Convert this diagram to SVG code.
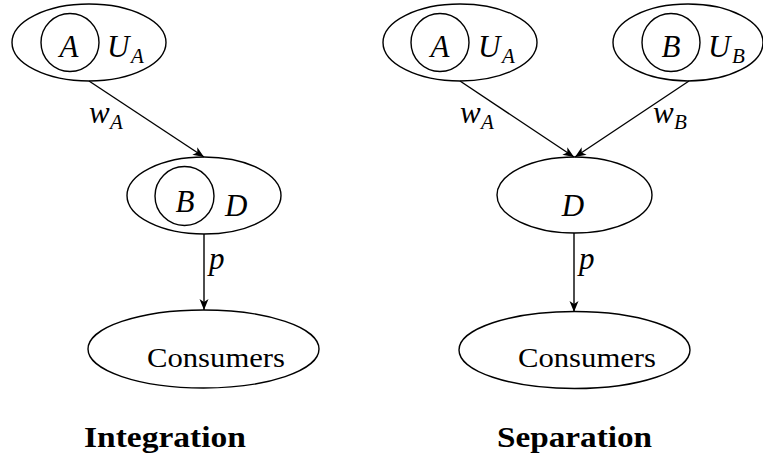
<svg xmlns="http://www.w3.org/2000/svg" width="763" height="462" viewBox="0 0 763 462" font-family="DejaVu Serif, serif">
<style>
.sh{fill:none;stroke:#000;stroke-width:1.4}
.ed{fill:none;stroke:#000;stroke-width:1.4}
text{fill:#000}
.m{font-family:"Liberation Serif",serif;font-style:italic;font-size:31px}
.s{font-family:"Liberation Serif",serif;font-style:italic;font-size:21px}
.r{font-family:"Liberation Serif",serif;font-size:28px}
.b{font-family:"Liberation Serif",serif;font-weight:bold;font-size:29px}
</style>
<defs>
<marker id="ah" markerWidth="12" markerHeight="10" viewBox="-11 -5 12 10" refX="0" refY="0" orient="auto" markerUnits="userSpaceOnUse">
<path d="M0,0 L-11,-4.5 L-8,0 L-11,4.5 Z" fill="#000"/>
</marker>
</defs>
<rect width="763" height="462" fill="#fff"/>
<g id="connectors">
<line class="ed" x1="89" y1="81" x2="204" y2="157" marker-end="url(#ah)"/>
<line class="ed" x1="204" y1="234" x2="204" y2="310" marker-end="url(#ah)"/>
<line class="ed" x1="460" y1="81" x2="574" y2="157" marker-end="url(#ah)"/>
<line class="ed" x1="689" y1="81" x2="575" y2="157" marker-end="url(#ah)"/>
<line class="ed" x1="574" y1="233" x2="574" y2="312" marker-end="url(#ah)"/>
<text class="m" x="89" y="123">w</text><text class="s" x="110" y="129">A</text>
<text class="m" x="460" y="123">w</text><text class="s" x="481" y="129">A</text>
<text class="m" x="653" y="123">w</text><text class="s" x="674" y="129">B</text>
<text class="m" x="209" y="269">p</text>
<text class="m" x="579" y="269">p</text>
</g>
<g id="left-UA">
<ellipse class="sh" cx="89" cy="42.5" rx="77" ry="38.5"/>
<circle class="sh" cx="70" cy="42.5" r="29"/>
<text class="m" x="69" y="57" text-anchor="middle">A</text>
<text class="m" x="107" y="57">U</text><text class="s" x="131" y="63">A</text>
</g>
<g id="left-D">
<ellipse class="sh" cx="204" cy="195.5" rx="77" ry="38.5"/>
<circle class="sh" cx="184.5" cy="196" r="29.5"/>
<text class="m" x="185" y="212" text-anchor="middle">B</text>
<text class="m" x="225" y="215.5">D</text>
</g>
<g id="left-consumers">
<ellipse class="sh" cx="203.5" cy="349" rx="115.5" ry="39"/>
<text class="r" x="147" y="367" textLength="138" lengthAdjust="spacingAndGlyphs">Consumers</text>
</g>
<text class="b" x="84" y="447" textLength="162" lengthAdjust="spacingAndGlyphs">Integration</text>
<g id="right-UA">
<ellipse class="sh" cx="460" cy="42.5" rx="77" ry="38.5"/>
<circle class="sh" cx="440" cy="42.5" r="29"/>
<text class="m" x="440" y="57" text-anchor="middle">A</text>
<text class="m" x="478" y="57">U</text><text class="s" x="502" y="63">A</text>
</g>
<g id="right-UB">
<ellipse class="sh" cx="688" cy="42.5" rx="75" ry="38.5"/>
<circle class="sh" cx="671" cy="42.5" r="29"/>
<text class="m" x="671" y="57" text-anchor="middle">B</text>
<text class="m" x="708" y="57">U</text><text class="s" x="732" y="63">B</text>
</g>
<g id="right-D">
<ellipse class="sh" cx="574.5" cy="195" rx="77.5" ry="38"/>
<text class="m" x="573" y="215.5" text-anchor="middle">D</text>
</g>
<g id="right-consumers">
<ellipse class="sh" cx="574.5" cy="350" rx="115.5" ry="38.5"/>
<text class="r" x="518" y="367" textLength="138" lengthAdjust="spacingAndGlyphs">Consumers</text>
</g>
<text class="b" x="497" y="447" textLength="155" lengthAdjust="spacingAndGlyphs">Separation</text>
</svg>
